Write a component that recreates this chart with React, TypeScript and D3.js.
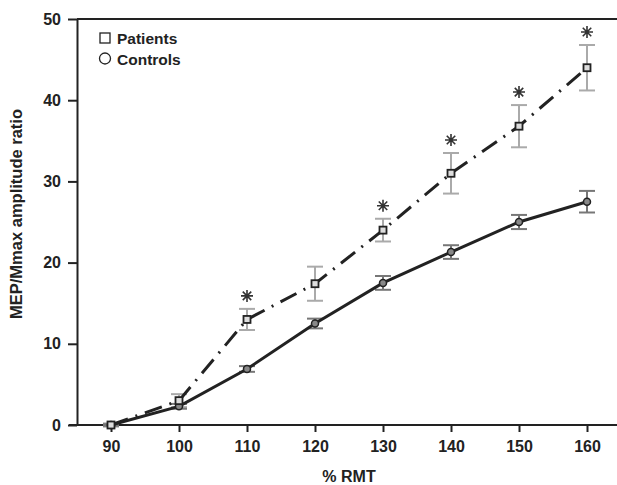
import React, { useRef, useEffect } from "react";
import * as d3 from "d3";

// % RMT levels
const rmt = [90, 100, 110, 120, 130, 140, 150, 160];
// MEP/Mmax amplitude ratio means and errors
const patientMean = [0, 3.0, 13.0, 17.4, 24.0, 31.0, 36.8, 44.0];
const patientErr = [0.2, 0.8, 1.3, 2.1, 1.4, 2.5, 2.6, 2.8];
const controlMean = [0, 2.3, 6.9, 12.5, 17.5, 21.3, 25.0, 27.5];
const controlErr = [0.1, 0.3, 0.35, 0.6, 0.85, 0.84, 0.87, 1.33];
// levels with a significant difference (asterisk)
const significant = [110, 130, 140, 150, 160];
const yTicks = [0, 10, 20, 30, 40, 50];

const W = 617;
const H = 485;
const FONT = "'Liberation Sans', Arial, Helvetica, sans-serif";
const INK = "#222";

const App = () => {
  const svgRef = useRef<SVGSVGElement>(null);

  useEffect(() => {
    const svg = d3.select(svgRef.current);
    svg.selectAll("*").remove();

    const x = d3.scaleLinear().domain([85, 165]).range([77, 621]);
    const y = d3.scaleLinear().domain([0, 50]).range([425, 19]);

    const patients = rmt.map((r, i) => ({ r, v: patientMean[i], e: patientErr[i] }));
    const controls = rmt.map((r, i) => ({ r, v: controlMean[i], e: controlErr[i] }));

    // frame lines (top + axes)
    svg.append("line")
      .attr("x1", x(85)).attr("x2", x(165))
      .attr("y1", y(50)).attr("y2", y(50))
      .attr("stroke", INK).attr("stroke-width", 2);

    const xAxis = svg.append("g")
      .attr("transform", `translate(0,${y(0)})`)
      .call(d3.axisBottom(x).tickValues(rmt).tickSize(7).tickPadding(9).tickSizeOuter(0));
    xAxis.select(".domain").attr("d", `M${x(85) - 8},0H${x(165)}`);

    const yAxis = svg.append("g")
      .attr("transform", `translate(${x(85)},0)`)
      .call(d3.axisLeft(y).tickValues(yTicks).tickSize(9).tickPadding(7).tickSizeOuter(0));

    [xAxis, yAxis].forEach((g) => {
      g.select(".domain").attr("stroke", INK).attr("stroke-width", 2);
      g.selectAll(".tick line").attr("stroke", INK).attr("stroke-width", 2);
      g.selectAll(".tick text")
        .attr("fill", INK)
        .attr("font-family", FONT)
        .attr("font-weight", "bold")
        .attr("font-size", 16);
    });

    // axis titles
    svg.append("text")
      .attr("x", 349).attr("y", 482)
      .attr("text-anchor", "middle")
      .attr("font-family", FONT).attr("font-weight", "bold").attr("font-size", 16)
      .attr("fill", INK)
      .text("% RMT");

    svg.append("text")
      .attr("transform", `translate(22,${214}) rotate(-90)`)
      .attr("text-anchor", "middle")
      .attr("font-family", FONT).attr("font-weight", "bold").attr("font-size", 16.5)
      .attr("fill", INK)
      .text("MEP/Mmax amplitude ratio");

    // error bars
    const drawErr = (rows, color) => {
      const g = svg.append("g").attr("stroke", color).attr("stroke-width", 2);
      rows.forEach((d) => {
        const cx = x(d.r);
        g.append("line").attr("x1", cx).attr("x2", cx).attr("y1", y(d.v - d.e)).attr("y2", y(d.v + d.e));
        [d.v - d.e, d.v + d.e].forEach((v) => {
          g.append("line").attr("x1", cx - 8).attr("x2", cx + 8).attr("y1", y(v)).attr("y2", y(v));
        });
      });
    };
    drawErr(patients, "#aaa");
    drawErr(controls, "#777");

    // lines
    const line = d3.line<{ r: number; v: number }>().x((d) => x(d.r)).y((d) => y(d.v));

    svg.append("path")
      .datum(controls)
      .attr("d", line)
      .attr("fill", "none")
      .attr("stroke", INK)
      .attr("stroke-width", 3);

    svg.append("path")
      .datum(patients)
      .attr("d", line)
      .attr("fill", "none")
      .attr("stroke", INK)
      .attr("stroke-width", 3)
      .attr("stroke-dasharray", "18,8,2,8");

    // markers
    svg.append("g").selectAll("circle")
      .data(controls)
      .join("circle")
      .attr("cx", (d) => x(d.r))
      .attr("cy", (d) => y(d.v))
      .attr("r", 3.5)
      .attr("fill", "#888")
      .attr("stroke", INK)
      .attr("stroke-width", 1.5);

    svg.append("g").selectAll("rect")
      .data(patients)
      .join("rect")
      .attr("x", (d) => x(d.r) - 3.5)
      .attr("y", (d) => y(d.v) - 3.5)
      .attr("width", 7)
      .attr("height", 7)
      .attr("fill", "#ddd")
      .attr("stroke", INK)
      .attr("stroke-width", 1.8);

    // asterisks above patient error bars
    const star = d3.path();
    const s = 6;
    for (let k = 0; k < 4; k++) {
      const a = (k * Math.PI) / 4;
      star.moveTo(-s * Math.cos(a), -s * Math.sin(a));
      star.lineTo(s * Math.cos(a), s * Math.sin(a));
    }
    svg.append("g").selectAll("path")
      .data(patients.filter((d) => significant.includes(d.r)))
      .join("path")
      .attr("transform", (d) => `translate(${x(d.r)},${y(d.v + d.e) - 13})`)
      .attr("d", star.toString())
      .attr("stroke", "#333")
      .attr("stroke-width", 1.6)
      .attr("fill", "none");

    // legend
    const legend = svg.append("g").attr("transform", "translate(105,0)");
    legend.append("rect")
      .attr("x", -5).attr("y", 33).attr("width", 10).attr("height", 10)
      .attr("fill", "white").attr("stroke", INK).attr("stroke-width", 1.3);
    legend.append("circle")
      .attr("cx", 0).attr("cy", 58.5).attr("r", 5.5)
      .attr("fill", "white").attr("stroke", INK).attr("stroke-width", 1.3);
    legend.selectAll("text")
      .data(["Patients", "Controls"])
      .join("text")
      .attr("x", 12)
      .attr("y", (d, i) => 44 + i * 20.5)
      .attr("font-family", FONT).attr("font-weight", "bold").attr("font-size", 15.5)
      .attr("fill", INK)
      .text((d) => d);
  }, []);

  return (
    <svg
      ref={svgRef}
      width={W}
      height={H}
      style={{ position: "absolute", left: 0, top: 0, background: "white" }}
    ></svg>
  );
};

export default App;
